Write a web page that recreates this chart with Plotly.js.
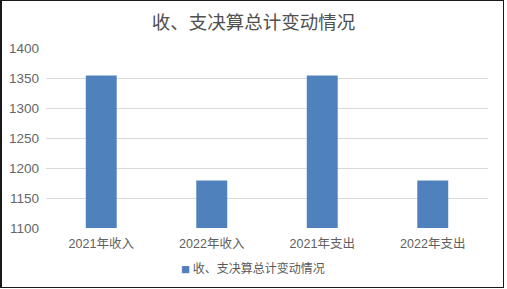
<!DOCTYPE html>
<html><head><meta charset="utf-8">
<script src="https://cdn.plot.ly/plotly-3.0.1.min.js"></script>
<style>
html,body{margin:0;padding:0;background:#fff;}
#wrap{position:relative;width:507px;height:289px;}
#chart{position:absolute;left:0;top:0;width:507px;height:289px;}
#frame{position:absolute;left:0;top:0;width:504px;height:288px;box-sizing:border-box;border:1px solid #1a1a1a;border-left-width:2px;pointer-events:none;}
</style>
</head><body>
<div id="wrap"><div id="chart"></div><div id="frame"></div></div>
<script>
const categories = ["2021年收入", "2022年收入", "2021年支出", "2022年支出"];
const values = [1354, 1179, 1354, 1179];
const seriesName = "收、支决算总计变动情况";
const chartTitle = "收、支决算总计变动情况";
const yTicks = [1100, 1150, 1200, 1250, 1300, 1350, 1400];
const barColor = "#4f81bd";

const font = "Liberation Sans, Noto Sans CJK SC, sans-serif";
const traces = [
  {type: "bar", x: categories, y: values, name: seriesName,
   marker: {color: barColor}, showlegend: false, hoverinfo: "skip"}
];

const layout = {
  width: 507, height: 289,
  margin: {l: 46, r: 19, t: 48, b: 61},
  paper_bgcolor: "#fff", plot_bgcolor: "#fff",
  title: {text: chartTitle, x: 0.5, xanchor: "center", y: 0.922, yanchor: "middle",
          font: {family: "Noto Sans CJK SC, sans-serif", size: 18.5, color: "#505050"}},
  bargap: 0.72,
  xaxis: {type: "category", tickfont: {family: font, size: 12.5, color: "#606060"},
          showline: false, showgrid: false, ticks: "", ticklabelstandoff: 6},
  yaxis: {range: [1100, 1400], tickvals: yTicks, ticktext: yTicks.map(String),
          tickfont: {family: font, size: 13.5, color: "#666666"},
          showgrid: true, gridcolor: "#d9d9d9", gridwidth: 1, zeroline: false,
          showline: false, ticks: "", ticklabelstandoff: 6},
  showlegend: false,
  annotations: [{
    xref: "paper", yref: "paper", x: 0.468, xanchor: "center", y: -0.222, yanchor: "middle",
    showarrow: false,
    text: '<span style="color:' + barColor + ';font-size:9px">■</span> ' + seriesName,
    font: {family: "Noto Sans CJK SC, sans-serif", size: 12, color: "#595959"}
  }]
};
Plotly.newPlot("chart", traces, layout, {staticPlot: true, displayModeBar: false});
</script>
</body></html>
